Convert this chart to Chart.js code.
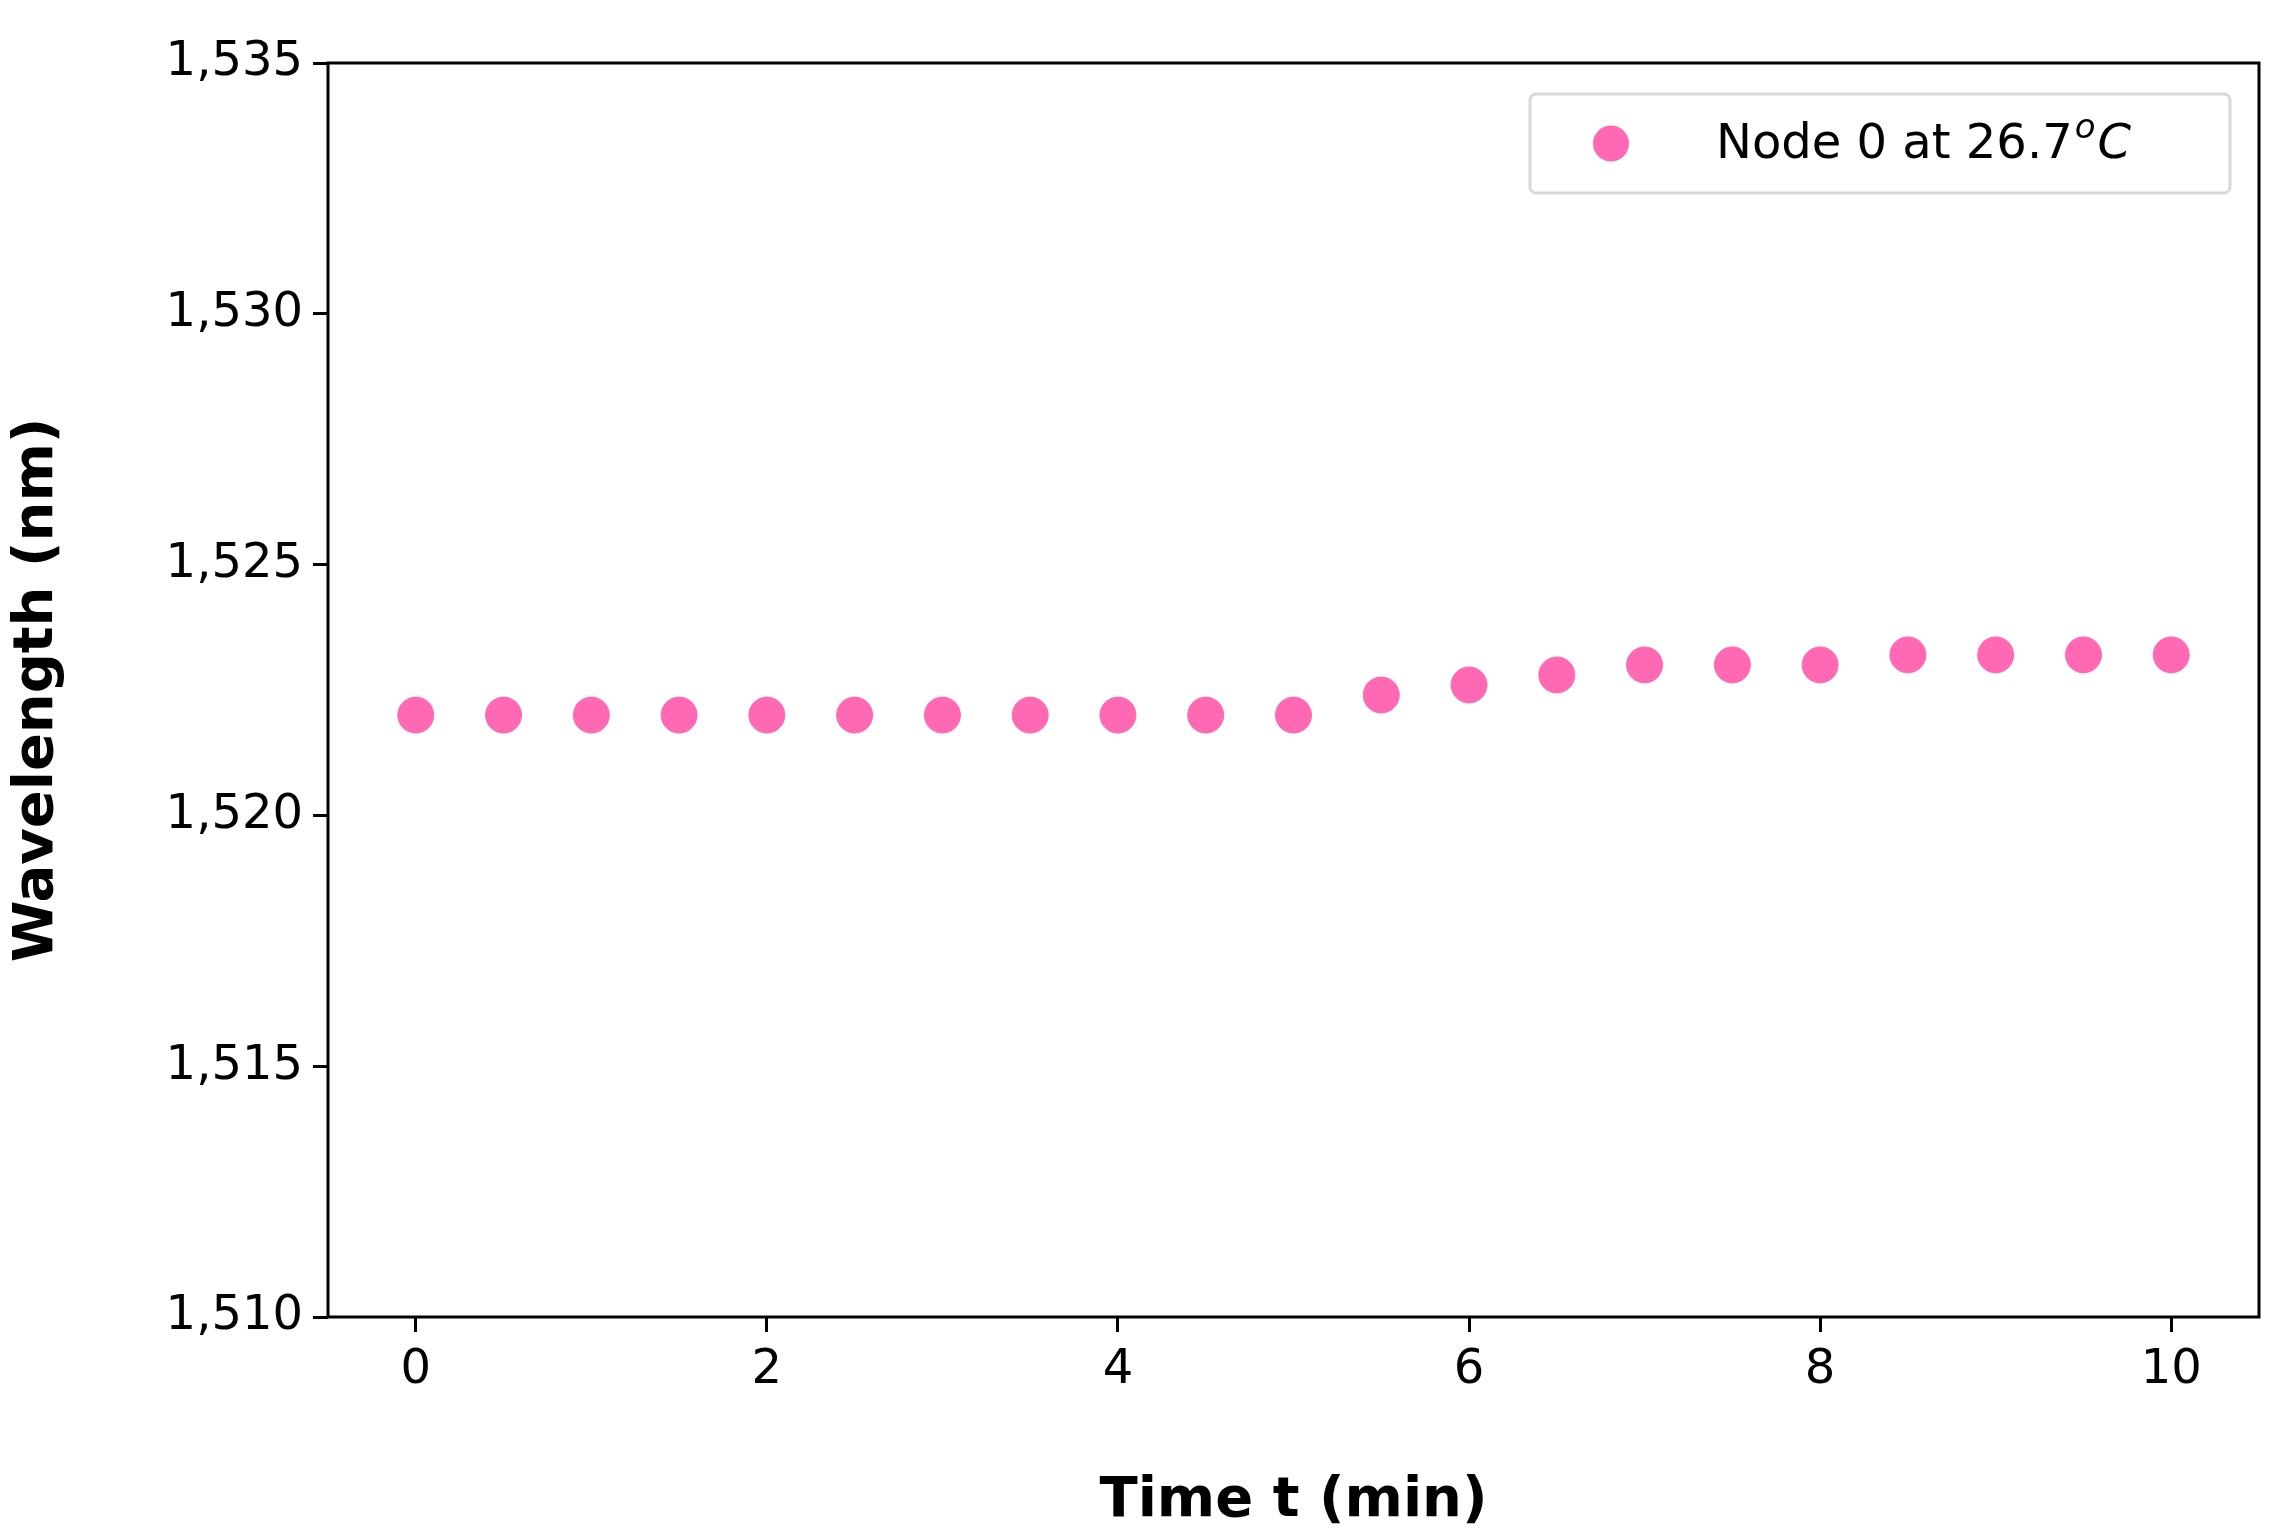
<!DOCTYPE html>
<html><head><meta charset="utf-8">
<script src="https://cdn.jsdelivr.net/npm/chart.js@4"></script>
<style>html,body{margin:0;padding:0;background:#fff}#w{width:2295px;height:1539px}</style>
</head><body><div id="w"><canvas id="c"></canvas></div>
<script>
const times = [0,0.5,1,1.5,2,2.5,3,3.5,4,4.5,5,5.5,6,6.5,7,7.5,8,8.5,9,9.5,10];
const wavelengths = [1522,1522,1522,1522,1522,1522,1522,1522,1522,1522,1522,1522.4,1522.6,1522.8,1523,1523,1523,1523.2,1523.2,1523.2,1523.2];
const xTicks = [0,2,4,6,8,10];
const yTicks = [1510,1515,1520,1525,1530,1535];
const seriesLabel = "Node 0 at 26.7";
const pink = '#ff69b4';
const F = 'DejaVu Sans';

const frame = {
  id:'frame',
  afterDraw(ch){
    const {ctx, chartArea:a} = ch;
    ctx.save();
    ctx.strokeStyle='#000'; ctx.lineWidth=3;
    ctx.strokeRect(a.left,a.top,a.right-a.left,a.bottom-a.top);
    // legend
    const lx=1530, ly=94, lw=700, lh=99;
    ctx.lineWidth=3; ctx.strokeStyle='#d8d8d8'; ctx.fillStyle='rgba(255,255,255,0.8)';
    ctx.beginPath(); ctx.roundRect(lx,ly,lw,lh,6); ctx.fill(); ctx.stroke();
    ctx.fillStyle=pink; ctx.beginPath(); ctx.arc(1611,ly+lh/2,18,0,Math.PI*2); ctx.fill();
    ctx.fillStyle='#000'; ctx.textBaseline='middle';
    ctx.font='48px "'+F+'"';
    ctx.fillText(seriesLabel,1716,ly+lh/2+2);
    let w=ctx.measureText(seriesLabel).width;
    ctx.font='italic 34px "'+F+'"';
    ctx.fillText('o',1716+w+2,ly+lh/2-14);
    let w2=ctx.measureText('o').width;
    ctx.font='italic 48px "'+F+'"';
    ctx.fillText('C',1716+w+w2+4,ly+lh/2+2);
    ctx.restore();
  }
};

new Chart(document.getElementById('c'),{
  type:'scatter',
  data:{datasets:[{label:seriesLabel,data:times.map((t,i)=>({x:t,y:wavelengths[i]})),
    backgroundColor:pink,borderColor:pink,pointRadius:18,pointHoverRadius:18}]},
  options:{
    responsive:true,maintainAspectRatio:false,animation:false,
    layout:{padding:{top:63,right:36,left:0,bottom:0}},
    plugins:{legend:{display:false},tooltip:{enabled:false}},
    scales:{
      x:{type:'linear',min:-0.5,max:10.5,
        afterBuildTicks(s){s.ticks=xTicks.map(v=>({value:v}));},
        afterFit(s){s.height=222;},
        grid:{drawOnChartArea:false,drawTicks:true,tickLength:15,color:'#000',lineWidth:3},
        border:{display:false},
        ticks:{color:'#000',font:{family:F,size:48},padding:10,maxRotation:0},
        title:{display:true,text:'Time t (min)',color:'#000',font:{family:F,size:56,weight:'bold'},padding:{top:4}}
      },
      y:{min:1510,max:1535,
        afterBuildTicks(s){s.ticks=yTicks.map(v=>({value:v}));},
        afterFit(s){s.width=328;},
        grid:{drawOnChartArea:false,drawTicks:true,tickLength:15,color:'#000',lineWidth:3},
        border:{display:false},
        ticks:{color:'#000',font:{family:F,size:48},padding:10},
        title:{display:true,text:'Wavelength (nm)',color:'#000',font:{family:F,size:56,weight:'bold'},padding:{bottom:10}}
      }
    }
  },
  plugins:[frame]
});
</script></body></html>
